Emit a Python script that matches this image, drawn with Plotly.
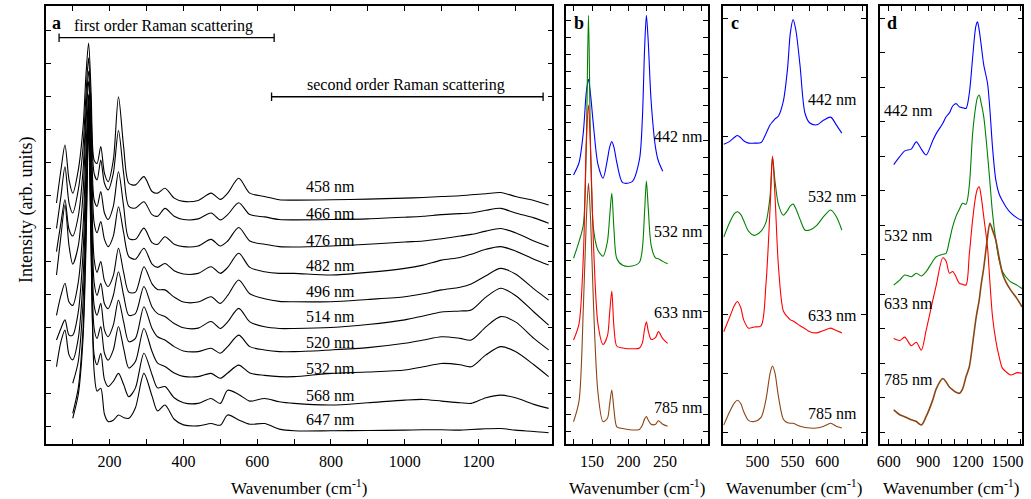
import plotly.graph_objects as go

# ---------------- data (offset intensities, arb. units) ----------------
# panel a : ten excitation wavelengths, black curves
a_labels = ["458 nm", "466 nm", "476 nm", "482 nm", "496 nm", "514 nm", "520 nm", "532 nm", "568 nm", "647 nm"]
a_x = [56, 68, 79, 90, 100, 115, 128, 136, 143, 150, 158, 166, 176, 186, 196, 210, 224, 238, 252, 270,
       293, 315, 330, 350, 375, 400, 440, 475, 500, 520, 550, 580, 620, 660, 700, 800, 900, 1000, 1050,
       1100, 1150, 1180, 1220, 1260, 1300, 1350, 1390]
a_458 = [7.30, 8.3, 9.06, 8.0, 7.6, 8.3, 9.6, 11.2, 12.15, 10.6, 8.6, 8.5, 9.01, 8.2, 7.95, 8.6, 10.52, 9.0, 7.9, 7.85,
         8.1, 7.65, 7.6, 7.75, 7.45, 7.35, 7.38, 7.6, 7.41, 7.6, 8.05, 7.6, 7.5, 7.4, 7.39, 7.4, 7.42, 7.45, 7.47,
         7.5, 7.52, 7.55, 7.58, 7.62, 7.5, 7.38, 7.24]
a_466 = [6.53, 7.5, 8.4, 7.3, 7.0, 7.7, 9.0, 10.6, 11.7, 10.0, 8.2, 8.0, 8.6, 7.9, 7.7, 8.2, 9.5, 8.2, 7.2, 7.15,
         7.34, 6.95, 6.9, 7.14, 6.9, 6.8, 6.82, 7.0, 6.79, 6.95, 7.31, 6.95, 6.88, 6.8, 6.79, 6.8, 6.82, 6.87, 6.9,
         6.95, 6.98, 7.0, 7.08, 7.14, 7.0, 6.85, 6.69]
a_476 = [5.83, 6.7, 7.4, 6.5, 6.3, 6.9, 8.3, 10.1, 11.3, 9.5, 7.4, 7.2, 7.65, 7.0, 6.8, 7.2, 8.25, 7.2, 6.23, 6.2,
         6.54, 6.1, 6.05, 6.28, 6.05, 5.98, 6.0, 6.2, 6.0, 6.15, 6.56, 6.15, 6.05, 5.98, 5.97, 6.0, 6.05, 6.12, 6.15,
         6.22, 6.3, 6.35, 6.45, 6.53, 6.4, 6.15, 5.98]
a_482 = [5.12, 6.3, 7.24, 6.0, 5.45, 6.0, 7.6, 9.7, 11.0, 9.0, 6.7, 6.4, 6.74, 6.2, 5.98, 6.3, 7.19, 6.4, 5.68, 5.6,
         5.93, 5.45, 5.35, 5.47, 5.25, 5.15, 5.17, 5.37, 5.17, 5.35, 5.78, 5.35, 5.22, 5.17, 5.17, 5.12, 5.2, 5.32, 5.42,
         5.57, 5.65, 5.75, 5.9, 5.98, 5.85, 5.6, 5.42]
a_496 = [3.9, 4.5, 4.87, 4.3, 4.2, 4.9, 6.6, 8.9, 10.6, 8.3, 5.6, 5.2, 5.53, 4.95, 4.77, 5.1, 5.93, 5.2, 4.6, 4.6,
         5.37, 4.85, 4.68, 4.67, 4.45, 4.3, 4.3, 4.46, 4.26, 4.5, 4.97, 4.55, 4.4, 4.32, 4.31, 4.31, 4.38, 4.46, 4.55,
         4.67, 4.75, 4.85, 5.1, 5.32, 5.15, 4.7, 4.36]
a_514 = [3.15, 3.5, 3.76, 3.3, 3.3, 4.0, 5.8, 8.3, 10.4, 7.8, 4.9, 4.5, 4.87, 4.25, 4.1, 4.5, 5.22, 4.5, 3.9, 3.95,
         4.77, 4.15, 3.95, 3.86, 3.65, 3.52, 3.51, 3.71, 3.5, 3.7, 4.11, 3.7, 3.55, 3.5, 3.5, 3.53, 3.62, 3.76, 3.88,
         4.0, 4.03, 4.06, 4.45, 4.72, 4.5, 4.0, 3.6]
a_520 = [2.34, 3.1, 3.45, 2.7, 2.55, 3.2, 5.0, 7.6, 10.2, 7.2, 4.2, 3.9, 4.26, 3.45, 3.25, 3.6, 4.36, 3.7, 3.1, 3.2,
         4.16, 3.5, 3.25, 3.15, 2.95, 2.82, 2.8, 2.9, 2.75, 2.95, 3.3, 2.95, 2.85, 2.8, 2.8, 2.85, 2.92, 3.05, 3.15,
         3.25, 3.2, 3.15, 3.55, 3.86, 3.7, 3.2, 2.85]
a_532 = [None, None, None, None, 1.84, 2.5, 4.3, 7.0, 10.0, 6.6, 3.5, 3.2, 3.56, 2.75, 2.54, 2.85, 3.56, 2.9, 2.3, 2.5,
         3.5, 2.8, 2.45, 2.35, 2.15, 2.05, 2.04, 2.14, 1.99, 2.15, 2.39, 2.15, 2.08, 2.04, 2.04, 2.14, 2.18, 2.24, 2.34,
         2.44, 2.4, 2.34, 2.7, 2.95, 2.8, 2.4, 2.04]
a_568 = [None, None, None, None, 0.93, 1.7, 3.5, 6.4, 9.8, 6.0, 2.7, 2.4, 2.75, 1.95, 1.74, 1.9, 2.14, 1.8, 1.43, 1.7,
         2.75, 2.1, 1.7, 1.74, 1.4, 1.25, 1.23, 1.38, 1.23, 1.63, 1.5, 1.3, 1.38, 1.28, 1.23, 1.18, 1.25, 1.33, 1.35,
         1.3, 1.25, 1.23, 1.4, 1.48, 1.4, 1.2, 1.08]
a_647 = [None, None, None, None, 0.78, 1.5, 3.2, 6.0, 9.6, 5.6, 2.2, 1.6, 1.69, 0.9, 0.68, 0.72, 0.88, 0.8, 0.78, 1.1,
         2.14, 1.45, 1.0, 1.18, 0.75, 0.58, 0.55, 0.62, 0.57, 0.88, 0.73, 0.6, 0.62, 0.45, 0.4, 0.4, 0.41, 0.42, 0.43,
         0.43, 0.42, 0.44, 0.46, 0.47, 0.42, 0.38, 0.34]
a_label_y = [7.8, 6.99, 6.18, 5.42, 4.62, 3.85, 3.09, 2.28, 1.48, 0.73]
first_order = [63, 646]
second_order = [639, 1375]

# panels b, c, d : four excitation wavelengths
bcd_labels = ["442 nm", "532 nm", "633 nm", "785 nm"]
bcd_colors = ["#0000ff", "#008000", "#ff0000", "#8b4513"]

b_x = [124.5, 132, 138, 142, 145, 148, 152, 158, 165, 171, 174, 177, 180, 184, 192, 205, 215, 219, 222, 224.5,
       227, 231, 237, 241, 247, 253.7]
b_442 = [15.69, 16.4, 18.2, 20.5, 21.26, 20.3, 18.5, 16.3, 15.5, 16.6, 17.3, 17.63, 17.3, 16.4, 15.24, 15.3, 16.6,
         19.0, 23.0, 25.0, 23.5, 20.0, 17.3, 16.5, 15.9, None]
b_532 = [10.83, 11.8, 12.8, 17.5, 25.0, 17.0, 12.5, 11.3, 10.95, 11.8, 13.2, 14.62, 12.5, 10.8, 10.42, 10.38, 10.6,
         11.4, 13.5, 15.34, 13.8, 11.6, 10.85, 10.8, 10.65, 10.51]
b_633 = [6.06, 7.0, 11.0, 17.5, 19.77, 17.0, 11.5, 7.0, 5.8, 6.3, 7.6, 8.92, 6.8, 5.7, 5.6, 5.55, 5.6, 5.9, 6.7,
         7.13, 6.6, 6.1, 6.2, 6.55, 6.15, 5.87]
b_785 = [1.3, 2.5, 8.0, 13.0, 15.2, 13.0, 8.0, 3.0, 1.3, 1.5, 2.3, 3.15, 2.0, 1.0, 0.9, 0.82, 0.85, 1.1, 1.45, 1.6,
         1.4, 1.15, 1.15, 1.36, 1.15, 1.03]
b_label_y = [17.92, 12.38, 7.68, 2.14]

c_x = [451.4, 460, 467, 471, 476, 480, 487, 495, 505, 512, 518, 521.4, 525, 530, 537, 543, 547, 551, 555, 561,
       568, 575, 585, 595, 605, 613, 621]
c_442 = [5.07, 5.12, 5.19, 5.22, 5.18, 5.13, 5.09, 5.09, 5.1, 5.25, 5.4, 5.45, 5.5, 5.55, 5.8, 6.35, 6.95, 7.18,
         7.0, 6.4, 5.6, 5.43, 5.4, 5.48, 5.53, 5.4, 5.26]
c_532 = [3.5, 3.75, 3.9, 3.93, 3.88, 3.78, 3.6, 3.53, 3.6, 3.75, 4.2, 4.86, 4.45, 4.05, 3.87, 3.95, 4.03, 4.06,
         3.98, 3.8, 3.62, 3.62, 3.7, 3.85, 3.96, 3.85, 3.62]
c_633 = [1.9, 2.15, 2.35, 2.41, 2.3, 2.1, 1.96, 1.98, 2.0, 2.7, 4.0, 4.87, 4.2, 3.0, 2.25, 2.15, 2.1, 2.08, 2.05,
         2.0, 1.95, 1.9, 1.88, 1.92, 1.96, 1.92, 1.88]
c_785 = [0.32, 0.55, 0.7, 0.74, 0.68, 0.55, 0.4, 0.38, 0.45, 0.75, 1.2, 1.32, 1.2, 0.8, 0.42, 0.36, 0.35, 0.35,
         0.33, 0.3, 0.28, 0.27, 0.27, 0.3, 0.35, 0.3, 0.27]
c_label_y = [5.82, 4.18, 2.18, 0.52]

d_x = [638, 683, 721, 771, 809, 847, 884, 934, 960, 1010, 1035, 1060, 1085, 1110, 1135, 1160, 1186, 1211, 1236,
       1260, 1273, 1286, 1300, 1320, 1349, 1367, 1387, 1412, 1437, 1462, 1488, 1525, 1575, 1610]
d_442 = [8.1, 8.33, 8.5, 8.55, 8.76, 8.55, 8.38, 8.8, 9.0, 9.3, 9.49, 9.6, 9.8, 9.87, 9.78, 9.75, 9.73, 10.17, 11.2,
         12.1, 12.24, 12.0, 11.6, 11.0, 10.46, 9.7, 8.6, 7.65, 7.25, 7.05, 6.88, 6.7, 6.55, 6.49]
d_532 = [4.61, 4.75, 4.9, 4.85, 4.95, 4.87, 5.0, 5.3, 5.43, 5.5, 5.53, 5.9, 6.3, 6.6, 6.8, 6.98, 6.95, 7.5, 9.0,
         9.8, 10.05, 10.12, 9.9, 9.5, 8.4, 7.6, 6.69, 5.9, 5.33, 5.0, 4.85, 4.7, 4.6, 4.51]
d_633 = [3.06, 3.0, 3.1, 2.85, 2.95, 2.72, 3.3, 4.17, 4.6, 5.4, 5.3, 4.95, 5.0, 4.85, 4.66, 4.63, 4.61, 5.5, 6.5,
         7.2, 7.4, 7.46, 7.2, 6.6, 5.7, 4.7, 3.69, 3.0, 2.53, 2.2, 2.1, 2.0, 2.07, 2.05]
d_785 = [0.99, 0.85, 0.79, 0.7, 0.65, 0.55, 0.8, 1.28, 1.6, 1.9, 1.8, 1.65, 1.57, 1.5, 1.47, 1.6, 1.95, 2.24, 2.9,
         3.6, 3.9, 4.17, 4.6, 5.1, 6.0, 6.4, 6.2, 5.91, 5.4, 4.95, 4.7, 4.46, 4.2, 3.98]
d_label_y = [9.68, 6.06, 4.08, 1.86]

# tick marks (labelled ones get text)
a_ticks = list(range(100, 1400, 100)); a_ticklab = ["200", "400", "600", "800", "1000", "1200"]
b_ticks = list(range(125, 325, 25)); b_ticklab = ["150", "200", "250"]
c_ticks = list(range(475, 675, 25)); c_ticklab = ["500", "550", "600"]
d_ticks = list(range(600, 1700, 100)); d_ticklab = ["600", "900", "1200", "1500"]

FONT = "Liberation Serif"
W, H = 1031, 499
fig = go.Figure()

a_series = [a_458, a_466, a_476, a_482, a_496, a_514, a_520, a_532, a_568, a_647]
for lab, ys in zip(a_labels, a_series):
    fig.add_trace(go.Scatter(x=a_x, y=ys, mode="lines", name=lab, xaxis="x", yaxis="y",
                             line=dict(color="black", width=1.1, shape="spline", smoothing=0.8)))

panels = [("x2", "y2", b_x, [b_442, b_532, b_633, b_785]),
          ("x3", "y3", c_x, [c_442, c_532, c_633, c_785]),
          ("x4", "y4", d_x, [d_442, d_532, d_633, d_785])]
for xa, ya, xs, series in panels:
    for lab, col, ys in zip(bcd_labels, bcd_colors, series):
        w = 1.6 if (xa == "x4" and col == "#8b4513") else 1.1
        fig.add_trace(go.Scatter(x=xs, y=ys, mode="lines", name=lab, xaxis=xa, yaxis=ya,
                                 line=dict(color=col, width=w, shape="spline", smoothing=0.8)))

ann = []
for lab, yv in zip(a_labels, a_label_y):
    ann.append(dict(x=798, y=yv, xref="x", yref="y", text=lab, showarrow=False, xanchor="center",
                    yanchor="middle", font=dict(size=16)))
for xr, yr, xv, anchor, ylist in [("x2", "y2", 305, "right", b_label_y), ("x3", "y3", 645, "right", c_label_y),
                                  ("x4", "y4", 552, "left", d_label_y)]:
    for lab, yv in zip(bcd_labels, ylist):
        ann.append(dict(x=xv, y=yv, xref=xr, yref=yr, text=lab, showarrow=False, xanchor=anchor,
                        yanchor="middle", font=dict(size=16)))

# range bars in panel a
shapes = []
for rng, yv in [(first_order, 12.31), (second_order, 10.52)]:
    shapes.append(dict(type="line", xref="x", yref="y", x0=rng[0], x1=rng[1], y0=yv, y1=yv,
                       line=dict(color="black", width=1.3)))
    for xe in rng:
        shapes.append(dict(type="line", xref="x", yref="y", x0=xe, x1=xe, y0=yv - 0.13, y1=yv + 0.13,
                           line=dict(color="black", width=1.3)))
ann.append(dict(x=99, y=12.65, xref="x", yref="y", text="first order Raman scattering", showarrow=False,
                xanchor="left", yanchor="middle", font=dict(size=16)))
ann.append(dict(x=729, y=10.88, xref="x", yref="y", text="second order Raman scattering", showarrow=False,
                xanchor="left", yanchor="middle", font=dict(size=16)))

# panel letters
for letter, px in [("a", 53), ("b", 578), ("c", 735), ("d", 892)]:
    ann.append(dict(x=px / W, y=1 - 23 / H, xref="paper", yref="paper", text="<b>%s</b>" % letter,
                    showarrow=False, xanchor="center", yanchor="middle", font=dict(size=18)))

doms = [(42, 551), (565, 707), (722.7, 865.7), (880.7, 1023.3)]
for x0, x1 in doms:
    ann.append(dict(x=(x0 + x1) / 2 / W, y=1 - 487 / H, xref="paper", yref="paper",
                    text="Wavenumber (cm<sup>-1</sup>)", showarrow=False, xanchor="center",
                    yanchor="middle", font=dict(size=17)))
ann.append(dict(x=22 / W, y=1 - 210 / H, xref="paper", yref="paper", text="Intensity (arb. units)",
                textangle=-90, showarrow=False, xanchor="center", yanchor="middle", font=dict(size=18)))

ydom = [1 - 444 / H, 1 - 6 / H]
axis_style = dict(showline=True, linecolor="black", linewidth=1.6, mirror="ticks", ticks="inside",
                  ticklen=5, tickwidth=1.2, tickcolor="black", showgrid=False, zeroline=False,
                  tickfont=dict(size=16), ticklabelstandoff=2)


def xaxis(dom, rng, tv, tl_show):
    tt = [str(v) if str(v) in tl_show else "" for v in tv]
    return dict(axis_style, domain=[dom[0] / W, dom[1] / W], range=rng, tickmode="array",
                tickvals=tv, ticktext=tt)


def yaxis(anchor, rng, t0):
    return dict(axis_style, domain=ydom, range=rng, anchor=anchor, tickmode="linear", tick0=t0, dtick=1,
                showticklabels=False)


fig.update_layout(
    width=W, height=H, margin=dict(l=0, r=0, t=0, b=0),
    paper_bgcolor="white", plot_bgcolor="white", showlegend=False,
    font=dict(family=FONT, size=16, color="black"),
    xaxis=dict(xaxis(doms[0], [27, 1400], a_ticks, a_ticklab), anchor="y"),
    xaxis2=dict(xaxis(doms[1], [114.5, 308.5], b_ticks, b_ticklab), anchor="y2"),
    xaxis3=dict(xaxis(doms[2], [450.6, 655], c_ticks, c_ticklab), anchor="y3"),
    xaxis4=dict(xaxis(doms[3], [537, 1613], d_ticks, d_ticklab), anchor="y4"),
    yaxis=yaxis("x", [0, 13.27], 0.524),
    yaxis2=yaxis("x2", [0, 25.54], 0.72),
    yaxis3=yaxis("x3", [0, 7.41], 0.198),
    yaxis4=yaxis("x4", [0, 12.7], 0.34),
    annotations=ann, shapes=shapes,
)

# the page body has a default 8px margin; drop it so the figure sits at the window corner
fig.write_html("out.html", config={"displayModeBar": False},
               post_script="document.body.style.margin='0';")
